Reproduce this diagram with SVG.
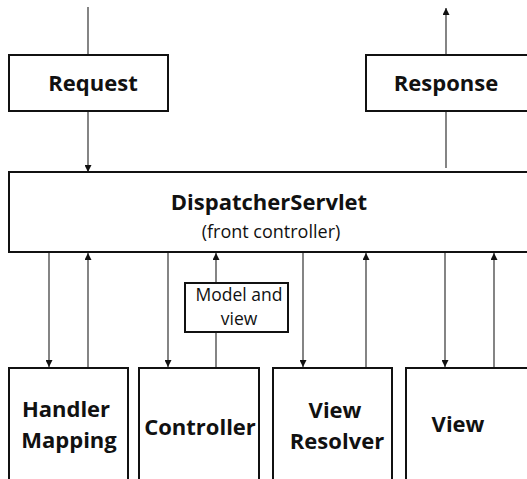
<svg xmlns="http://www.w3.org/2000/svg" width="527" height="479" viewBox="0 0 527 479">
  <style>
    .box { fill: #fff; stroke: #111; stroke-width: 2; }
    .lbl { font-family: "Open Sans", "Noto Sans", sans-serif; font-weight: bold; font-size: 22px; fill: #111; text-anchor: middle; }
    .sub { font-family: "Open Sans", "Noto Sans", sans-serif; font-size: 18px; fill: #111; text-anchor: middle; }
    .small { font-family: "Open Sans", "Noto Sans", sans-serif; font-size: 17.5px; fill: #111; text-anchor: middle; }
    .wire { stroke: #333; stroke-width: 1.2; fill: none; }
  </style>
  <defs>
    <marker id="arrow" viewBox="0 0 10 10" refX="10" refY="5" markerWidth="7" markerHeight="7" markerUnits="userSpaceOnUse" orient="auto">
      <path d="M0,0 L10,5 L0,10 z" fill="#111"/>
    </marker>
  </defs>

  <g id="connectors">
    <line class="wire" x1="88" y1="7" x2="88" y2="55"/>
    <line class="wire" x1="88" y1="111" x2="88" y2="172" marker-end="url(#arrow)"/>
    <line class="wire" x1="446" y1="55" x2="446" y2="8" marker-end="url(#arrow)"/>
    <line class="wire" x1="446" y1="168" x2="446" y2="111"/>
    <line class="wire" x1="49" y1="252" x2="49" y2="367" marker-end="url(#arrow)"/>
    <line class="wire" x1="88" y1="368" x2="88" y2="253" marker-end="url(#arrow)"/>
    <line class="wire" x1="168" y1="252" x2="168" y2="367" marker-end="url(#arrow)"/>
    <line class="wire" x1="216" y1="283" x2="216" y2="253" marker-end="url(#arrow)"/>
    <line class="wire" x1="216" y1="368" x2="216" y2="332"/>
    <line class="wire" x1="303" y1="252" x2="303" y2="367" marker-end="url(#arrow)"/>
    <line class="wire" x1="366" y1="368" x2="366" y2="253" marker-end="url(#arrow)"/>
    <line class="wire" x1="445" y1="252" x2="445" y2="367" marker-end="url(#arrow)"/>
    <line class="wire" x1="494" y1="368" x2="494" y2="253" marker-end="url(#arrow)"/>
  </g>

  <g id="request">
    <rect class="box" x="9" y="55" width="159" height="56"/>
    <text class="lbl" x="93" y="91">Request</text>
  </g>
  <g id="response">
    <rect class="box" x="366" y="55" width="170" height="56"/>
    <text class="lbl" x="446" y="91">Response</text>
  </g>
  <g id="dispatcher">
    <rect class="box" x="9" y="172" width="530" height="80"/>
    <text class="lbl" x="269" y="210">DispatcherServlet</text>
    <text class="sub" x="271" y="238">(front controller)</text>
  </g>
  <g id="model-and-view">
    <rect class="box" x="185" y="283" width="103" height="49"/>
    <text class="small" x="239" y="301">Model and</text>
    <text class="small" x="239" y="325">view</text>
  </g>
  <g id="handler-mapping">
    <rect class="box" x="9" y="368" width="119" height="120"/>
    <text class="lbl" x="66" y="417">Handler</text>
    <text class="lbl" x="69" y="448">Mapping</text>
  </g>
  <g id="controller">
    <rect class="box" x="139" y="368" width="120" height="120"/>
    <text class="lbl" x="200" y="435">Controller</text>
  </g>
  <g id="view-resolver">
    <rect class="box" x="273" y="368" width="119" height="120"/>
    <text class="lbl" x="335" y="418">View</text>
    <text class="lbl" x="337" y="449">Resolver</text>
  </g>
  <g id="view">
    <rect class="box" x="406" y="368" width="130" height="120"/>
    <text class="lbl" x="458" y="432">View</text>
  </g>
</svg>
